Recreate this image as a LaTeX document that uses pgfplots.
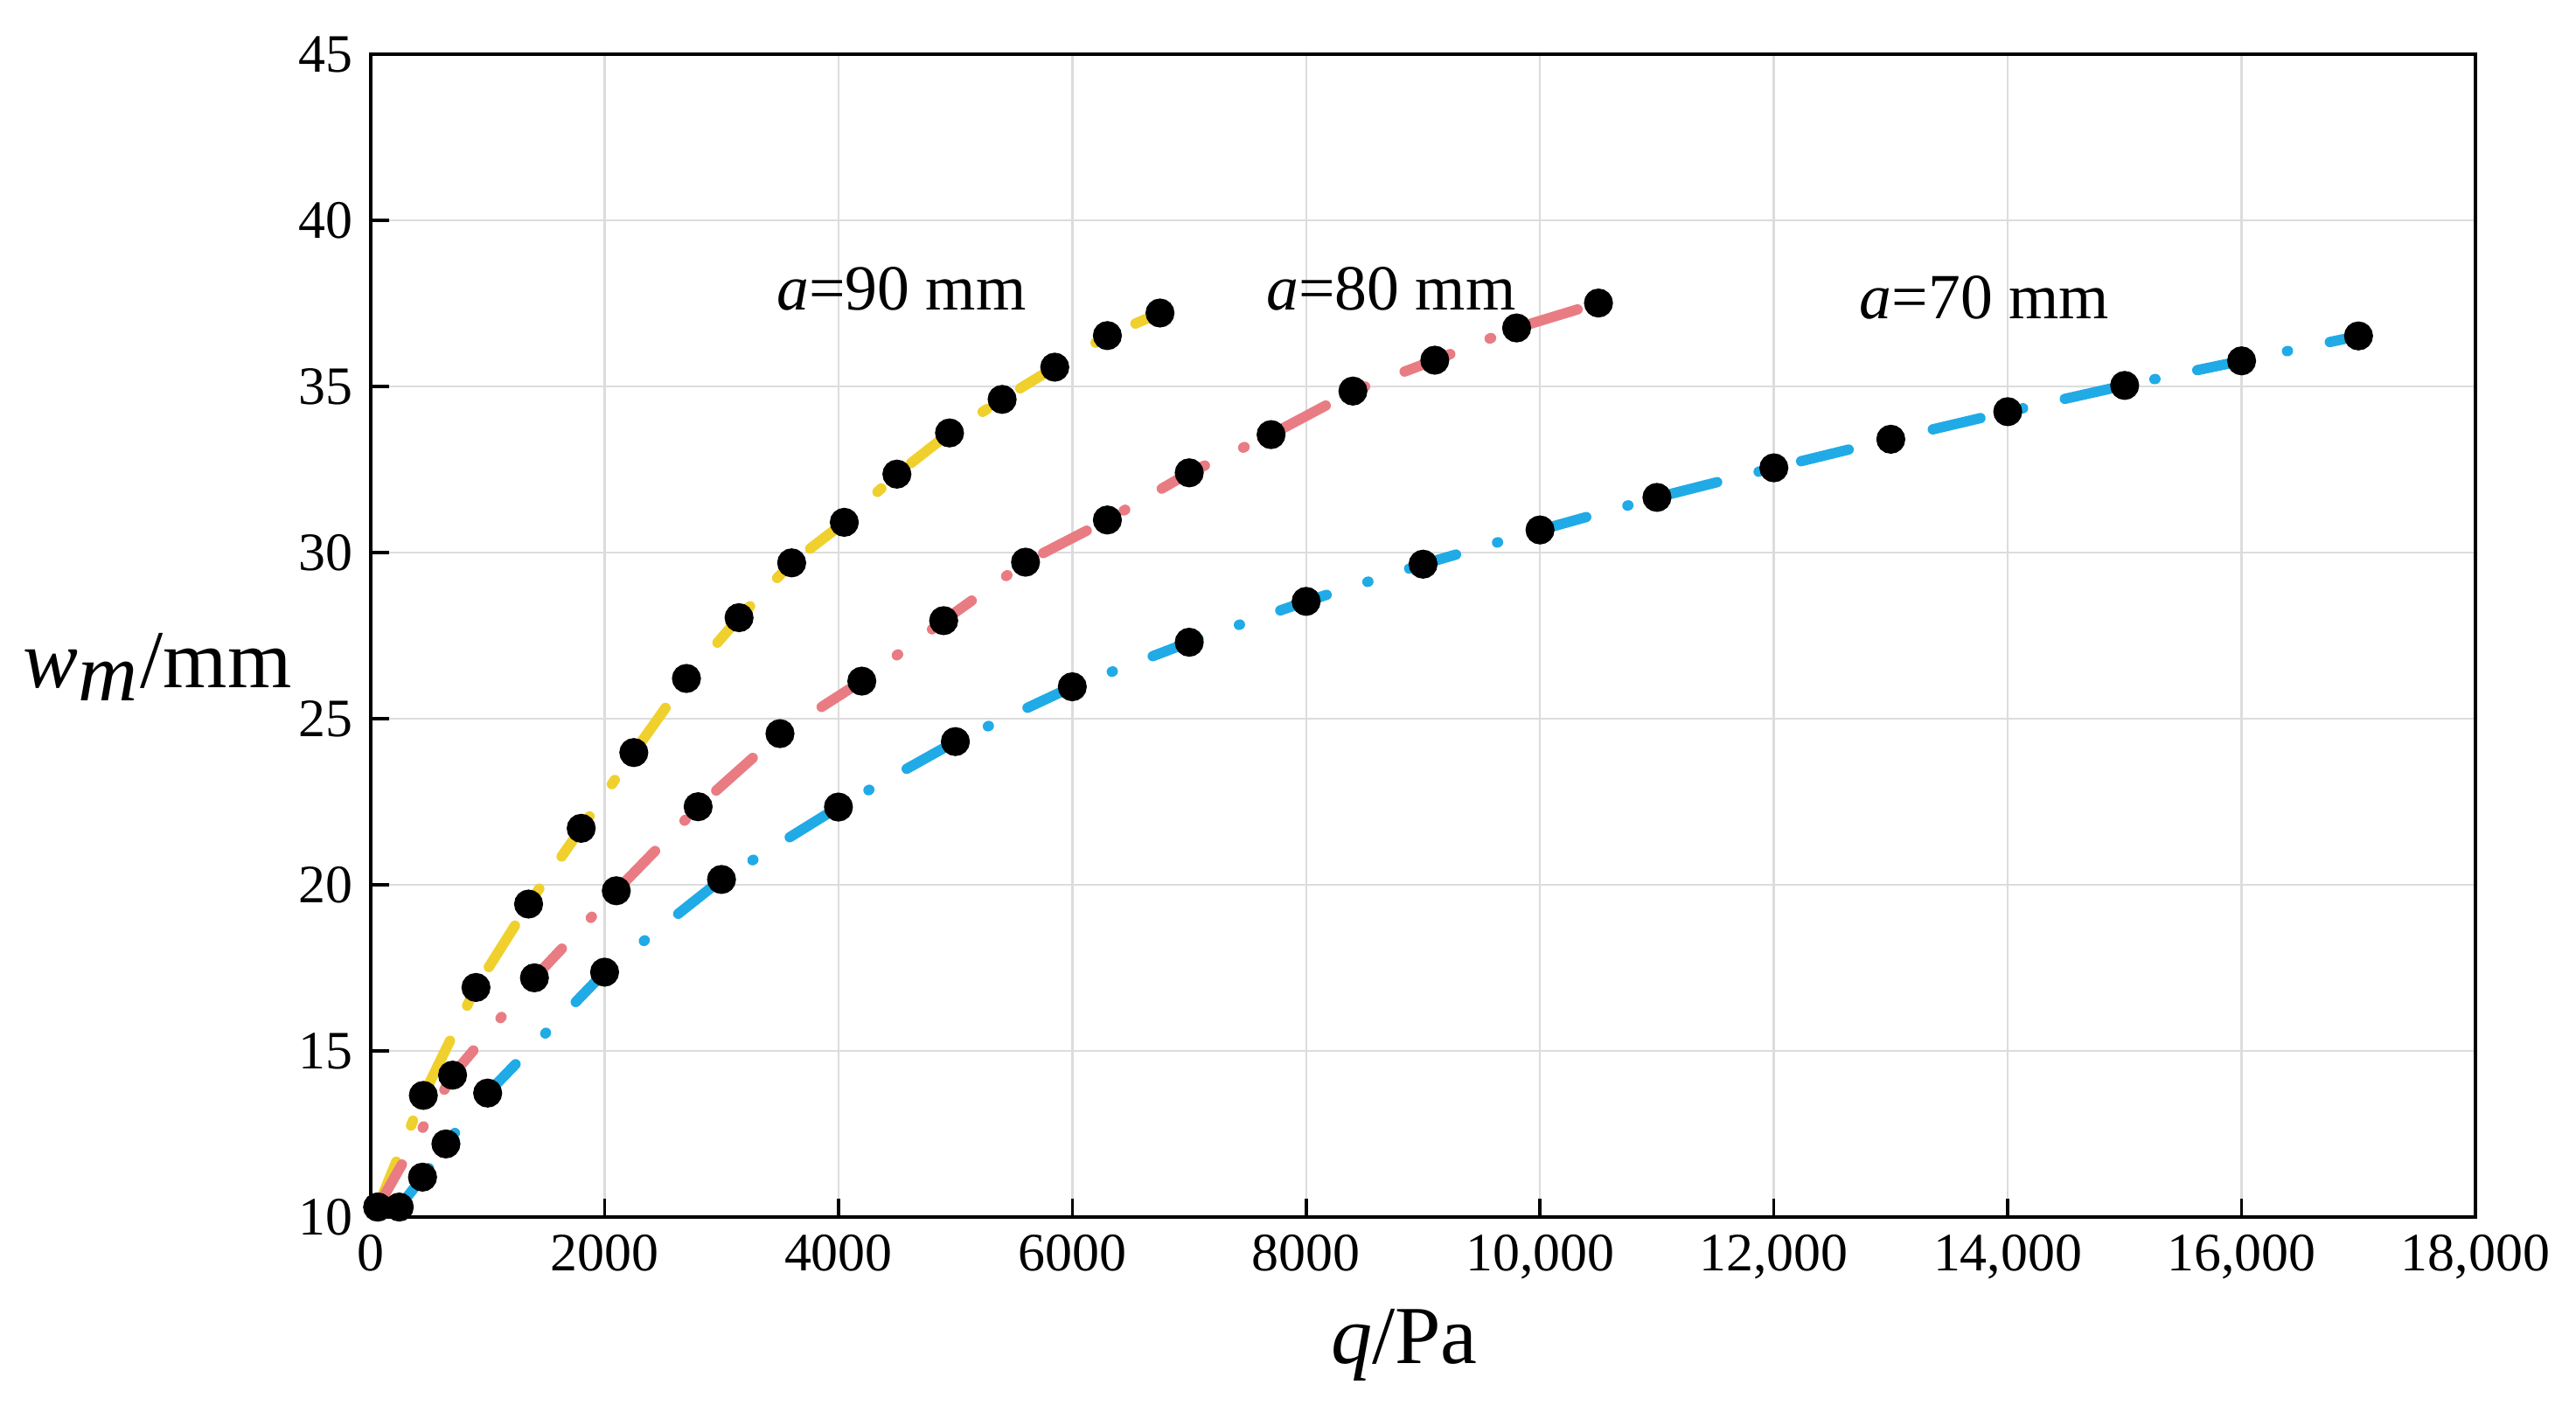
\documentclass[border=0pt]{standalone}
\usepackage{fontspec}
\setmainfont{Liberation Serif}
\usepackage{pgfplots}
\pgfplotsset{compat=1.18}
\definecolor{c90}{HTML}{F0D02C}
\definecolor{c80}{HTML}{E97C83}
\definecolor{c70}{HTML}{20ABE6}
\definecolor{gridc}{HTML}{DCDCDC}
\begin{document}
\begin{tikzpicture}
\path[use as bounding box] (-71.96pt,-39.04pt) rectangle (428.04pt,236.25pt);
\begin{axis}[
  scale only axis, width=408.52pt, height=225.73pt,
  at={(0,0)}, anchor=south west,
  xmin=0, xmax=18000, ymin=10, ymax=45,
  clip=false,
  xtick={0,2000,4000,6000,8000,10000,12000,14000,16000,18000},
  xticklabels={0,2000,4000,6000,8000,{10,000},{12,000},{14,000},{16,000},{18,000}},
  ytick={10,15,20,25,30,35,40,45},
  scaled x ticks=false,
  tick align=inside, xtick pos=bottom, ytick pos=left,
  major tick length=3.6pt,
  grid=major, major grid style={draw=gridc, line width=0.4pt},
  axis line style={line width=0.6pt},
  tick style={black, line width=0.6pt},
  ticklabel style={font=\fontsize{10.5}{12}\selectfont},
  /pgf/number format/assume math mode=true,
]
\addplot[color=c90, line width=2pt, line cap=round,
  dash pattern=on 9.5pt off 7.6pt on 1pt off 7.6pt,
  mark=*, mark size=1.8pt, mark options={solid, fill=black, draw=black}]
coordinates {(60,10.3) (450,13.66) (900,16.91) (1350,19.42) (1800,21.70) (2250,23.98) (2700,26.21) (3150,28.04) (3600,29.69) (4050,30.91) (4500,32.36) (4950,33.60) (5400,34.61) (5850,35.58) (6300,36.53) (6750,37.21)};
\addplot[color=c80, line width=2pt, line cap=round,
  dash pattern=on 9.5pt off 8.2pt on 0.3pt off 8.2pt,
  mark=*, mark size=1.8pt, mark options={solid, fill=black, draw=black}]
coordinates {(60,10.3) (700,14.27) (1400,17.20) (2100,19.82) (2800,22.35) (3500,24.55) (4200,26.13) (4900,27.95) (5600,29.71) (6300,30.98) (7000,32.40) (7700,33.55) (8400,34.86) (9100,35.79) (9800,36.76) (10500,37.51)};
\addplot[color=c70, line width=2pt, line cap=round,
  dash pattern=on 9.5pt off 8.3pt on 0.2pt off 8.3pt,
  mark=*, mark size=1.8pt, mark options={solid, fill=black, draw=black}]
coordinates {(244,10.3) (443,11.2) (643,12.2) (1000,13.73) (2000,17.37) (3000,20.16) (4000,22.34) (5000,24.31) (6000,25.96) (7000,27.30) (8000,28.53) (9000,29.65) (10000,30.68) (11000,31.66) (12000,32.55) (13000,33.41) (14000,34.24) (15000,35.03) (16000,35.77) (17000,36.52)};
\node[anchor=base, font=\fontsize{12.5}{14}\selectfont, inner sep=0pt] at (axis cs:4539,37.29) {\textit{a}=90 mm};
\node[anchor=base, font=\fontsize{12.5}{14}\selectfont, inner sep=0pt] at (axis cs:8727,37.29) {\textit{a}=80 mm};
\node[anchor=base, font=\fontsize{12.5}{14}\selectfont, inner sep=0pt] at (axis cs:13800,37.03) {\textit{a}=70 mm};
\node[anchor=center, font=\fontsize{16}{18}\selectfont, inner sep=0pt] at (axis description cs:-0.1014,0.473) {\textit{w}$_{\textit{m}}$/mm};
\node[anchor=base, font=\fontsize{16}{18}\selectfont, inner sep=0pt] at (axis description cs:0.491,-0.1263) {\textit{q}/Pa};
\end{axis}
\end{tikzpicture}
\end{document}
